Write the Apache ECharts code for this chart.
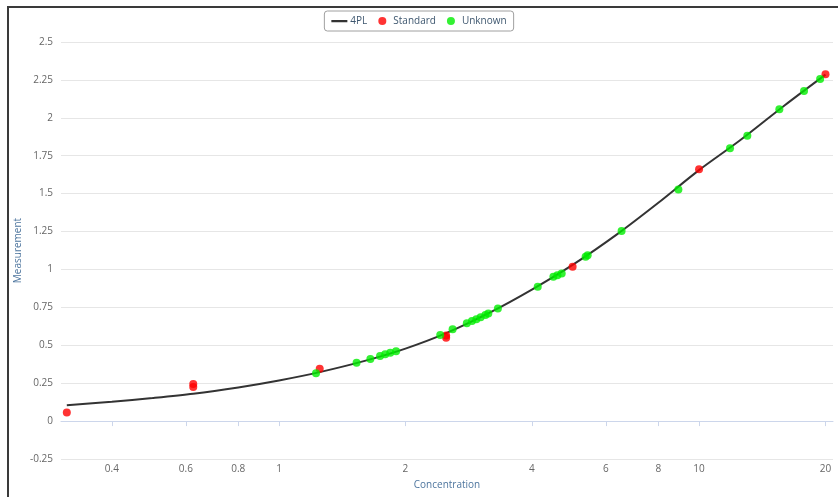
<!DOCTYPE html>
<html>
<head>
<meta charset="utf-8">
<title>4PL standard curve</title>
<script src="https://cdn.jsdelivr.net/npm/echarts@6/dist/echarts.min.js"></script>
<style>
  html, body { margin: 0; padding: 0; background: #ffffff; }
  #chart { width: 838px; height: 497px; }
</style>
</head>
<body>
<div id="chart"></div>
<script>
// Fitted 4PL curve, sampled along the concentration range
const curveConc = [0.3125, 0.4, 0.5, 0.625, 0.8, 1.0, 1.25, 1.6, 2.0, 2.5, 3.2, 4.0, 5.0, 6.4, 8.0, 10, 12.5, 16, 20];
const curveMeas = [0.105, 0.128, 0.152, 0.180, 0.222, 0.268, 0.323, 0.397, 0.478, 0.580, 0.720, 0.867, 1.030, 1.235, 1.440, 1.655, 1.850, 2.083, 2.285];

// Standards (two-fold dilution series)
const standardConc = [0.3125, 0.625, 0.625, 1.25, 2.5, 2.5, 5, 10, 20];
const standardMeas = [0.057, 0.245, 0.225, 0.345, 0.565, 0.550, 1.018, 1.660, 2.287];

// Unknown samples
const unknownConc = [1.225, 1.53, 1.65, 1.74, 1.79, 1.84, 1.90, 2.42, 2.59, 2.80, 2.88, 2.95, 3.02, 3.10, 3.15, 3.32, 4.13, 4.50, 4.60, 4.71, 5.37, 5.43, 6.54, 8.93, 11.85, 13.03, 15.53, 17.78, 19.42];
const unknownMeas = [0.315, 0.385, 0.409, 0.430, 0.440, 0.450, 0.460, 0.567, 0.605, 0.645, 0.660, 0.672, 0.685, 0.700, 0.710, 0.743, 0.886, 0.952, 0.962, 0.974, 1.083, 1.093, 1.253, 1.528, 1.799, 1.882, 2.056, 2.177, 2.256];

// Axis tick labels
const xTicks = [0.4, 0.6, 0.8, 1, 2, 4, 6, 8, 10, 20];
const yTicks = ['-0.25', '0', '0.25', '0.5', '0.75', '1', '1.25', '1.5', '1.75', '2', '2.25', '2.5'];

const pairs = (xs, ys) => xs.map((x, i) => [x, ys[i]]);

const FONT = 'Open Sans';
const labelColor = '#666666';
const titleColor = '#4d759e';

// Plain horizontal bar for the curve's legend entry; the two dot-sized
// corner segments keep the bar from being stretched to the full icon height.
const lineIcon = 'path://M0,0L0.01,0L0.01,0.01Z M0,3L16,3L16,5.2L0,5.2Z M15.99,8L16,8L16,7.99Z';

const chart = echarts.init(document.getElementById('chart'), null, { renderer: 'canvas' });

chart.setOption({
  animation: false,
  backgroundColor: '#ffffff',
  textStyle: { fontFamily: FONT },
  graphic: [{
    type: 'polyline',
    shape: { points: [[8, 497], [8, 7], [838, 7]] },
    style: { stroke: '#3a3a3a', lineWidth: 2, fill: null },
    silent: true
  }],
  legend: {
    top: 11,
    left: 'center',
    padding: [5, 7],
    itemGap: 11,
    itemWidth: 16,
    itemHeight: 8,
    borderColor: '#a0a0a0',
    borderWidth: 1,
    borderRadius: 3,
    textStyle: { fontFamily: FONT, fontSize: 10, color: '#3e576f', padding: [0, 0, 0, -2] },
    data: [
      { name: '4PL', icon: lineIcon },
      { name: 'Standard', icon: 'circle' },
      { name: 'Unknown', icon: 'circle' }
    ]
  },
  grid: { left: 61, right: 5, top: 42, bottom: 38, containLabel: false },
  xAxis: {
    type: 'log',
    logBase: 10,
    min: 0.3027,
    max: 20.84,
    name: 'Concentration',
    nameLocation: 'middle',
    nameGap: 21,
    nameMoveOverlap: false,
    nameTextStyle: { fontFamily: FONT, fontSize: 10, color: titleColor },
    axisLine: { show: true, lineStyle: { color: '#ccd6eb', width: 1 } },
    axisTick: { show: true, customValues: xTicks, length: 5, lineStyle: { color: '#ccd6eb' } },
    axisLabel: {
      customValues: xTicks,
      margin: 5,
      fontSize: 10,
      color: labelColor,
      fontFamily: FONT,
      formatter: v => String(+Number(v).toPrecision(6))
    },
    splitLine: { show: false },
    minorTick: { show: false }
  },
  yAxis: {
    type: 'value',
    min: -0.25,
    max: 2.5,
    interval: 0.25,
    name: 'Measurement',
    nameLocation: 'middle',
    nameGap: 38,
    nameMoveOverlap: false,
    nameTextStyle: { fontFamily: FONT, fontSize: 10, color: titleColor },
    axisLine: { show: false },
    axisTick: { show: false },
    axisLabel: {
      margin: 8,
      fontSize: 10,
      color: labelColor,
      fontFamily: FONT,
      formatter: v => yTicks[Math.round((v + 0.25) / 0.25)]
    },
    splitLine: { show: true, lineStyle: { color: '#e6e6e6', width: 1 } }
  },
  series: [
    {
      name: '4PL',
      type: 'line',
      data: pairs(curveConc, curveMeas),
      smooth: 0.3,
      symbol: 'none',
      color: '#333333',
      lineStyle: { color: '#333333', width: 2 },
      z: 2
    },
    {
      name: 'Standard',
      type: 'scatter',
      data: pairs(standardConc, standardMeas),
      symbol: 'circle',
      symbolSize: 8,
      color: '#ff0000',
      itemStyle: { color: '#ff0000' },
      z: 3
    },
    {
      name: 'Unknown',
      type: 'scatter',
      data: pairs(unknownConc, unknownMeas),
      symbol: 'circle',
      symbolSize: 8,
      color: '#00ee00',
      itemStyle: { color: '#00ee00' },
      z: 4
    }
  ]
});
</script>
</body>
</html>
